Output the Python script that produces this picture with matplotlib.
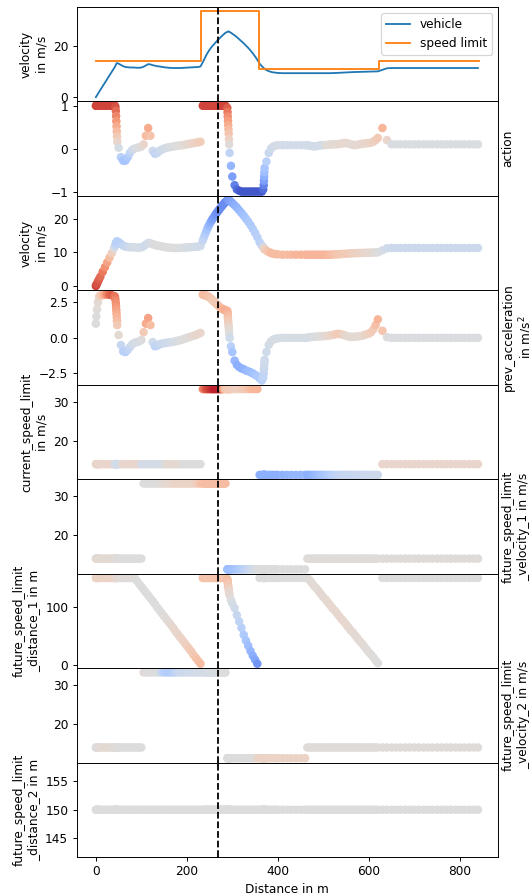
import matplotlib
matplotlib.use('Agg')
import matplotlib.pyplot as plt

# distance of every recorded step along the route (m)
step_x = (
    [0, 1, 2.5, 4.5, 7]
    + [10, 15, 20, 25, 30, 35, 40]
    + [42, 43, 44, 44.5, 45, 45.5, 46, 46.5, 47]
    + [50, 55, 60, 65, 70, 75, 80, 85, 90, 95, 100, 105, 110, 115, 120, 125, 130]
    + [135, 140, 145, 150, 155, 160, 165, 170, 175, 180,
       185, 190, 195, 200, 205, 210, 215, 220, 225, 230]
    + [235, 237.5, 240, 242.5, 245, 247.5, 250, 252.5, 255, 257.5, 260,
       262.5, 265, 267.5, 270, 272.5, 275, 277.5, 280, 282.5, 285]
    + [289, 289.5, 290, 290.5, 291, 291.5, 292, 292.5, 293, 294]
    + [297, 300, 305, 310, 315, 320, 325, 330, 335, 340, 345, 350, 355, 360, 365]
    + [368, 369, 369.5, 370, 370.5, 371]
    + [375, 380, 385, 390, 395, 400]
    + [410, 420, 430, 440, 450, 460]
    + [465, 470, 475, 480, 485, 490, 495, 500, 505, 510, 515, 520, 525, 530, 535, 540,
       545, 550, 555, 560, 565, 570, 575, 580, 585, 590, 595, 600, 605, 610, 615, 620]
    + [630, 640, 650, 660, 670, 680, 690, 700, 710, 720, 730,
       740, 750, 760, 770, 780, 790, 800, 810, 820, 830, 840]
)

# speed limit along the route
limit_edges = [0, 232, 359, 622, 842]
limit_values = [13.89, 33.33, 11.11, 13.89]

# observed features per step
velocity = (
    [0.0, 0.3, 0.7, 1.3, 2.0]
    + [2.8, 4.2, 5.6, 7.0, 8.4, 9.8, 11.2]
    + [11.8, 12.2, 12.6, 12.8, 13.0, 13.1, 13.2, 13.2, 13.2]
    + [13.0, 12.5, 12.0, 11.7, 11.6, 11.5, 11.5, 11.5, 11.4, 11.4, 11.5, 11.8, 12.3, 12.8, 12.7, 12.4, 12.2]
    + [12.0, 11.9, 11.75, 11.6, 11.5, 11.4, 11.35, 11.3, 11.3, 11.3,
       11.3, 11.35, 11.4, 11.45, 11.5, 11.55, 11.6, 11.65, 11.7, 11.9]
    + [13.5, 14.4, 15.3, 16.2, 17.0, 17.7, 18.4, 19.0, 19.6, 20.1, 20.6,
       21.1, 21.6, 22.05, 22.5, 22.95, 23.4, 23.8, 24.2, 24.6, 25.0]
    + [25.3, 25.4, 25.4, 25.5, 25.5, 25.5, 25.5, 25.4, 25.4, 25.3]
    + [25.0, 24.6, 24.0, 23.3, 22.5, 21.7, 20.9, 20.0, 19.1, 18.1, 17.0, 15.8, 14.5, 13.0, 12.0]
    + [11.5, 11.3, 11.2, 11.1, 11.0, 10.9]
    + [10.5, 10.1, 9.8, 9.6, 9.5, 9.4]
    + [9.3] * 6
    + [9.3] * 11
    + [9.35, 9.38, 9.4, 9.45, 9.5, 9.55, 9.6, 9.65, 9.7, 9.72, 9.75,
       9.78, 9.8, 9.83, 9.85, 9.88, 9.9, 9.92, 9.95, 9.98, 10.0]
    + [10.6, 11.2] + [11.3] * 20
)

action = (
    [1.0] * 12
    + [1.0, 0.97, 0.88, 0.76, 0.64, 0.52, 0.4, 0.28, 0.16]
    + [0.02, -0.2, -0.28, -0.28, -0.2, -0.1, -0.03, 0.0, 0.02, 0.03, 0.05, 0.1, 0.3, 0.48, 0.3, -0.05, -0.12]
    + [-0.1, -0.05, -0.02, 0.0, 0.02, 0.03, 0.04, 0.05, 0.06, 0.07,
       0.075, 0.08, 0.09, 0.1, 0.11, 0.12, 0.13, 0.14, 0.15, 0.16]
    + [1.0] * 21
    + [0.95, 0.85, 0.75, 0.65, 0.55, 0.45, 0.35, 0.22, 0.1, -0.1]
    + [-0.4, -0.65, -0.85, -0.95, -0.98] + [-1.0] * 10
    + [-0.95, -0.85, -0.75, -0.65, -0.55, -0.45]
    + [-0.3, -0.1, 0.0, 0.05, 0.07, 0.08]
    + [0.08] * 6
    + [0.08, 0.07, 0.06, 0.05, 0.06, 0.07, 0.08, 0.08]
    + [0.085, 0.09, 0.095, 0.1, 0.1, 0.1, 0.11, 0.12, 0.125, 0.13]
    + [0.12, 0.1, 0.09, 0.08, 0.09, 0.1, 0.11, 0.12, 0.125, 0.13]
    + [0.14, 0.16, 0.2, 0.25]
    + [0.48, 0.2] + [0.1] * 20
)

prev_acceleration = (
    [1.0, 1.5, 2.0, 2.5, 2.9]
    + [3.0, 3.0, 3.05, 3.05, 3.05, 3.0, 2.95]
    + [2.9, 2.7, 2.45, 2.2, 1.95, 1.7, 1.45, 1.2, 0.9]
    + [0.2, -0.5, -0.95, -1.0, -0.85, -0.65, -0.45, -0.35, -0.3, -0.25, -0.15, 0.4, 1.0, 1.4, 0.9, -0.3, -0.6]
    + [-0.55, -0.45, -0.4, -0.38, -0.35, -0.32, -0.3, -0.28, -0.24, -0.2,
       -0.16, -0.12, -0.06, 0.0, 0.05, 0.1, 0.15, 0.2, 0.28, 0.35]
    + [3.05, 3.02, 3.0, 2.98, 2.95, 2.9, 2.85, 2.78, 2.7, 2.62, 2.55,
       2.48, 2.4, 2.32, 2.25, 2.18, 2.1, 2.05, 2.0, 1.98, 1.95]
    + [1.9, 1.75, 1.55, 1.35, 1.15, 0.95, 0.75, 0.55, 0.3, 0.0]
    + [-0.6, -1.0, -1.6, -1.9, -2.05, -2.15, -2.2, -2.3, -2.35, -2.42, -2.5, -2.6, -2.7, -2.85, -3.0]
    + [-2.8, -2.5, -2.2, -1.95, -1.75, -1.55]
    + [-1.0, -0.5, -0.25, -0.12, -0.06, -0.03]
    + [0.0] * 6
    + [0.02, 0.05, 0.06, 0.08, 0.09, 0.1, 0.11, 0.12]
    + [0.13, 0.15, 0.18, 0.2, 0.24, 0.28, 0.28, 0.25, 0.2, 0.15]
    + [0.1, 0.08, 0.08, 0.08, 0.1, 0.12, 0.15, 0.2, 0.25, 0.3]
    + [0.4, 0.6, 0.9, 1.3]
    + [0.5, 0.05] + [0.0] * 20
)

current_speed_limit = [13.89] * 58 + [33.33] * 44 + [11.11] * 52 + [13.89] * 22
fsl_velocity_1 = [13.89] * 32 + [33.33] * 47 + [11.11] * 43 + [13.89] * 54
fsl_distance_1 = (
    [150] * 29
    + [145, 140, 135, 130, 125, 120, 115, 110, 105]
    + [99, 94, 89, 84, 79, 74, 69, 64, 58, 53, 48, 43, 38, 33, 28, 23, 17, 12, 7, 2]
    + [150] * 21
    + [148, 145, 142, 139, 136, 133, 130, 127, 124, 120]
    + [112, 106, 98, 86, 75, 64, 52, 42, 33, 24, 16, 9, 2, 150, 150]
    + [150] * 18
    + [150, 146, 141, 136, 132, 127, 122, 117, 113, 108, 103, 98, 94, 89, 84, 79,
       75, 70, 65, 60, 56, 51, 46, 41, 37, 32, 27, 22, 18, 13, 8, 3]
    + [150] * 22
)
fsl_velocity_2 = [13.89] * 32 + [33.33] * 47 + [11.11] * 43 + [13.89] * 54
fsl_distance_2 = [150] * len(step_x)

# relevance of each feature per step (-1 .. 1)
velocity_rel = (
    [0.85, 0.85, 0.8, 0.8, 0.75]
    + [0.7, 0.65, 0.55, 0.45, 0.3, 0.15, 0.0]
    + [-0.1, -0.15, -0.2, -0.2, -0.22, -0.25, -0.25, -0.25, -0.25]
    + [-0.25, -0.22, -0.18, -0.15, -0.12, -0.1, -0.08, -0.06, -0.05, -0.05, -0.08, -0.1, -0.1, -0.08, -0.05, -0.03, 0.0]
    + [0.0] * 10 + [-0.01, -0.02, -0.03, -0.04, -0.05, -0.06, -0.07, -0.08, -0.09, -0.1]
    + [-0.15, -0.2, -0.25, -0.3, -0.35, -0.4, -0.45, -0.5, -0.55, -0.58, -0.6,
       -0.63, -0.65, -0.68, -0.7, -0.7, -0.7, -0.7, -0.7, -0.7, -0.7]
    + [-0.68, -0.68, -0.66, -0.66, -0.65, -0.65, -0.64, -0.63, -0.62, -0.6]
    + [-0.58, -0.55, -0.5, -0.47, -0.44, -0.41, -0.38, -0.35, -0.32, -0.3, -0.28, -0.26, -0.24, -0.22, -0.18]
    + [-0.1, -0.05, 0.0, 0.05, 0.1, 0.15]
    + [0.2, 0.25, 0.3, 0.3, 0.3, 0.3]
    + [0.3, 0.3, 0.32, 0.35, 0.35, 0.35]
    + [0.35] * 8
    + [0.34, 0.33, 0.31, 0.28, 0.26, 0.25, 0.23, 0.22, 0.21, 0.2, 0.19, 0.18,
       0.16, 0.15, 0.14, 0.12, 0.11, 0.1, 0.09, 0.08, 0.06, 0.05, 0.02, 0.0]
    + [-0.05, -0.1] + [-0.12] * 20
)

action_rel = (
    [0.85] * 12
    + [0.85, 0.8, 0.7, 0.6, 0.5, 0.4, 0.3, 0.2, 0.1]
    + [-0.05, -0.25, -0.35, -0.35, -0.3, -0.2, -0.12, -0.06, -0.03, 0.0, 0.0, 0.1, 0.3, 0.4, 0.25, -0.1, -0.2]
    + [-0.15, -0.12, -0.1, -0.08, -0.06, -0.05, -0.03, -0.02, -0.01, 0.0,
       0.02, 0.03, 0.05, 0.06, 0.08, 0.1, 0.12, 0.14, 0.16, 0.18]
    + [0.85] * 21
    + [0.75, 0.65, 0.55, 0.48, 0.4, 0.32, 0.24, 0.14, 0.02, -0.2]
    + [-0.45, -0.6, -0.75, -0.85, -0.9] + [-0.95] * 10
    + [-0.85, -0.75, -0.6, -0.5, -0.4, -0.35]
    + [-0.25, -0.15, -0.1, -0.08, -0.06, -0.05]
    + [-0.08] * 6
    + [-0.08] * 8
    + [0.03, 0.04, 0.04, 0.05, 0.05, 0.06, 0.07, 0.08, 0.08, 0.08,
       0.07, 0.06, 0.05, 0.05, 0.06, 0.07, 0.08, 0.09, 0.1, 0.11, 0.12, 0.14]
    + [0.17, 0.2]
    + [0.35, 0.1] + [-0.03] * 20
)

prev_acceleration_rel = (
    [0.0, 0.0, 0.02, 0.05, 0.1]
    + [0.2, 0.3, 0.45, 0.6, 0.7, 0.75, 0.7]
    + [0.65, 0.6, 0.55, 0.5, 0.45, 0.4, 0.35, 0.3, 0.2]
    + [0.05, -0.15, -0.25, -0.25, -0.2, -0.15, -0.1, -0.05, -0.05, -0.05, 0.0, 0.2, 0.4, 0.45, 0.3, -0.1, -0.2]
    + [-0.18, -0.15, -0.14, -0.12, -0.11, -0.1, -0.08, -0.05, -0.04, -0.03,
       -0.02, 0.0, 0.01, 0.02, 0.03, 0.05, 0.06, 0.08, 0.09, 0.1]
    + [0.3, 0.3, 0.3, 0.29, 0.28, 0.27, 0.25, 0.24, 0.22, 0.21, 0.2,
       0.2, 0.2, 0.21, 0.22, 0.25, 0.28, 0.32, 0.35, 0.38, 0.4]
    + [0.38, 0.35, 0.3, 0.25, 0.2, 0.15, 0.1, 0.05, 0.0, -0.1]
    + [-0.25, -0.35, -0.45, -0.5, -0.5, -0.5, -0.48, -0.45, -0.42, -0.4, -0.38, -0.35, -0.32, -0.3, -0.25]
    + [-0.2, -0.18, -0.15, -0.12, -0.1, -0.1]
    + [-0.1, -0.08, -0.06, -0.05, -0.05, -0.05]
    + [-0.05] * 6
    + [-0.05, -0.04, -0.03, -0.02, -0.01, 0.0, 0.02, 0.03]
    + [0.05, 0.08, 0.1, 0.12, 0.15, 0.18, 0.2, 0.18, 0.12, 0.08]
    + [0.05, 0.05, 0.05, 0.05, 0.05, 0.06, 0.08, 0.1, 0.12, 0.15]
    + [0.18, 0.2, 0.28, 0.35]
    + [0.25, 0.0] + [-0.02] * 20
)

current_speed_limit_rel = (
    [0.1] * 12
    + [-0.05] + [-0.08] * 8
    + [-0.08, -0.05] + [0.1] * 8 + [-0.07] * 7
    + [-0.07, -0.07, -0.06, -0.05, 0.05, 0.07, 0.07, 0.07, 0.07, 0.07, 0.05, 0.02] + [0.0] * 8
    + [0.55, 0.62, 0.7, 0.75, 0.8, 0.83, 0.85, 0.88, 0.9, 0.92, 0.95,
       0.95, 0.95, 0.95, 0.95, 0.93, 0.9, 0.7, 0.5, 0.35, 0.25]
    + [0.2] * 10
    + [0.2, 0.18, 0.15, 0.15, 0.15, 0.18, 0.2, 0.22, 0.25, 0.3, 0.33, 0.35, 0.35, -0.5, -0.5]
    + [-0.5] * 12
    + [-0.48, -0.47, -0.46, -0.45, -0.45, -0.45]
    + [-0.5, -0.5, -0.47, -0.45, -0.42, -0.4, -0.37, -0.35, -0.32, -0.3, -0.27, -0.25, -0.22, -0.2]
    + [-0.18, -0.17, -0.16, -0.16, -0.15, -0.15, -0.15, -0.15, -0.15,
       -0.14, -0.14, -0.13, -0.13, -0.13, -0.12, -0.12, -0.12, -0.12]
    + [0.1] * 22
)

fsl_velocity_1_rel = (
    [0.05] * 12 + [0.03] * 9 + [0.0] * 17
    + [0.0, 0.02, 0.03, 0.05, 0.06, 0.08, 0.09, 0.1, 0.11, 0.12] + [0.12] * 7 + [0.15, 0.2, 0.25]
    + [0.3] * 21
    + [-0.4] * 10
    + [-0.4, -0.38, -0.36, -0.33, -0.3, -0.27, -0.24, -0.2, -0.16, -0.12, -0.08, -0.05, -0.02, 0.0, 0.0]
    + [0.0] * 18
    + [0.02] * 54
)

fsl_distance_1_rel = (
    [0.12] * 12 + [0.08] * 9 + [0.03] * 8 + [0.0] * 9
    + [0.0, 0.0, 0.0, 0.02, 0.03, 0.05, 0.06, 0.08, 0.09, 0.1,
       0.11, 0.13, 0.14, 0.16, 0.18, 0.2, 0.22, 0.25, 0.27, 0.3]
    + [0.25] * 21
    + [0.3, 0.28, 0.25, 0.22, 0.2, 0.17, 0.14, 0.11, 0.08, 0.05]
    + [0.0, -0.05, -0.1, -0.15, -0.2, -0.25, -0.3, -0.35, -0.4, -0.45, -0.5, -0.55, -0.65, 0.0, 0.0]
    + [0.0] * 18
    + [0.02, 0.03, 0.035, 0.04, 0.045, 0.05, 0.055, 0.06, 0.065, 0.07, 0.075,
       0.08, 0.08, 0.08, 0.08, 0.08, 0.08, 0.075, 0.07, 0.065, 0.06, 0.055,
       0.05, 0.045, 0.04, 0.035, 0.03, 0.025, 0.02, 0.015, 0.01, 0.0]
    + [0.0] * 22
)

fsl_velocity_2_rel = (
    [0.0, 0.0, 0.0, 0.02, 0.03]
    + [0.04, 0.05, 0.05, 0.05, 0.05, 0.04, 0.03]
    + [0.02] * 9 + [0.0] * 11
    + [0.03, 0.03, 0.02, 0.0, 0.0, 0.0]
    + [0.0, -0.05, -0.15, -0.25, -0.27, -0.28, -0.27, -0.25, -0.2, -0.15,
       -0.13, -0.12, -0.11, -0.1, -0.1, -0.1, -0.09, -0.08, -0.08, -0.08]
    + [-0.08, -0.075, -0.07, -0.065, -0.06, -0.055, -0.05, -0.05, -0.05, -0.045, -0.04,
       -0.035, -0.03, -0.025, -0.02, -0.02, -0.015, -0.01, -0.01, -0.005, 0.0]
    + [0.0] * 22 + [0.1, 0.12, 0.12] + [0.12] * 18
    + [0.02] * 54
)

fsl_distance_2_rel = [0.0] * len(step_x)

panels = [
    (action, action_rel, 'action', 'right', [-1, 0, 1]),
    (velocity, velocity_rel, 'velocity\nin m/s', 'left', [0, 10, 20]),
    (prev_acceleration, prev_acceleration_rel, 'prev_acceleration\nin m/s$^2$', 'right', [-2.5, 0.0, 2.5]),
    (current_speed_limit, current_speed_limit_rel, 'current_speed_limit\nin m/s', 'left', [20, 30]),
    (fsl_velocity_1, fsl_velocity_1_rel, 'future_speed_limit\n_velocity_1 in m/s', 'right', [20, 30]),
    (fsl_distance_1, fsl_distance_1_rel, 'future_speed_limit\n_distance_1 in m', 'left', [0, 100]),
    (fsl_velocity_2, fsl_velocity_2_rel, 'future_speed_limit\n_velocity_2 in m/s', 'right', [20, 30]),
    (fsl_distance_2, fsl_distance_2_rel, 'future_speed_limit\n_distance_2 in m', 'left', [145, 150, 155]),
]

marked_step = 269

dpi = 87
fig, axes = plt.subplots(9, 1, sharex=True, figsize=(529 / dpi, 895 / dpi), dpi=dpi)
fig.subplots_adjust(left=0.145, right=0.9414, top=0.9922, bottom=0.0425, hspace=0)

# top: vehicle speed against the speed limit
ax = axes[0]
ax.plot(step_x, velocity, color='tab:blue', lw=1.5, label='vehicle')
ax.step(limit_edges, limit_values + [limit_values[-1]], where='post',
        color='tab:orange', lw=1.5, label='speed limit')
ax.set_ylabel('velocity\nin m/s')
ax.set_yticks([0, 20])
ax.legend(loc='upper right')
ax.axvline(marked_step, color='k', ls='--', lw=1.5)

# one panel per input feature, coloured by its relevance
for ax, (vals, rel, label, side, ticks) in zip(axes[1:], panels):
    ax.scatter(step_x, vals, c=rel, cmap='coolwarm', vmin=-1, vmax=1, s=36)
    ax.axvline(marked_step, color='k', ls='--', lw=1.5)
    ax.set_ylabel(label, labelpad=3 if side == 'right' else 4)
    ax.yaxis.set_label_position(side)
    ax.set_yticks(ticks)

axes[-1].set_xlabel('Distance in m')
axes[-1].set_xticks([0, 200, 400, 600, 800])

fig.savefig('out.png', dpi=dpi)
